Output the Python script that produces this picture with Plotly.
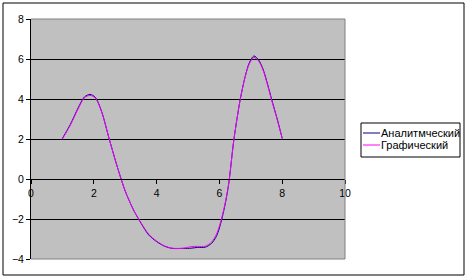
import plotly.graph_objects as go

x_vals = [1.0, 1.25, 1.5, 1.7, 1.88, 2.05, 2.25, 2.5, 2.75, 3.0, 3.25, 3.5, 3.75,
          4.0, 4.25, 4.5, 4.85, 5.1, 5.3, 5.55, 5.75, 5.9, 6.0, 6.12, 6.21, 6.3,
          6.46, 6.66, 6.82, 6.95, 7.1, 7.25, 7.4, 7.55, 7.67, 7.85, 8.0]
y_analytic = [2.03, 2.72, 3.55, 4.1, 4.23, 4.08, 3.37, 1.95, 0.6, -0.6, -1.5, -2.2, -2.8,
              -3.13, -3.36, -3.47, -3.47, -3.46, -3.42, -3.41, -3.22, -2.88, -2.45, -1.72, -1.05, -0.2,
              1.95, 3.95, 5.12, 5.8, 6.15, 5.95, 5.45, 4.65, 3.95, 2.95, 2.03]
y_graphic = [2.0, 2.68, 3.5, 4.06, 4.18, 4.04, 3.35, 1.95, 0.6, -0.6, -1.5, -2.18, -2.76,
             -3.1, -3.34, -3.46, -3.46, -3.38, -3.37, -3.36, -3.15, -2.78, -2.35, -1.65, -1.0, -0.2,
             1.95, 3.95, 5.1, 5.75, 6.08, 5.9, 5.4, 4.6, 3.9, 2.92, 2.03]

x_ticks = [0, 2, 4, 6, 8, 10]
y_ticks = [-4, -2, 0, 2, 4, 6, 8]
names = ["Аналитмческий", "Графический"]
colors = ["#000080", "#FF00FF"]

FONT = "Liberation Sans, Arial, sans-serif"

fig = go.Figure()
for yv, nm, col in zip([y_analytic, y_graphic], names, colors):
    fig.add_trace(go.Scatter(x=x_vals, y=yv, mode="lines", name=nm, showlegend=False,
                             line=dict(color=col, width=1, shape="spline", smoothing=0.8)))

fig.update_layout(
    width=468, height=278,
    margin=dict(l=31, r=123, t=19, b=19),
    paper_bgcolor="white", plot_bgcolor="#C0C0C0",
    font=dict(family=FONT, size=10, color="black"),
    xaxis=dict(range=[0, 10], tickvals=x_ticks, showgrid=False, zeroline=False,
               showline=True, linecolor="black", linewidth=1,
               ticks="outside", ticklen=4, tickcolor="black",
               anchor="free", position=1/3, tickfont=dict(size=10.5)),
    yaxis=dict(range=[-4, 8], tickvals=y_ticks, showgrid=True, gridcolor="black", gridwidth=1,
               zeroline=False, showline=True, linecolor="black", linewidth=1,
               ticks="outside", ticklen=4, tickcolor="black", tickfont=dict(size=10.5)),
    showlegend=False,
)

def px(xp):
    return (xp - 31) / 314

def py(yp):
    return (259 - yp) / 240

# plot-area border (gray) on top/right/bottom
for (x0, y0, x1, y1) in [(0, 1, 1, 1), (1, 0, 1, 1), (0, 0, 1, 0)]:
    fig.add_shape(type="line", xref="paper", yref="paper", x0=x0, x1=x1, y0=y0, y1=y1,
                  line=dict(color="#808080", width=1), layer="above")
# outer chart border
fig.add_shape(type="rect", xref="paper", yref="paper",
              x0=px(3), x1=px(464), y0=py(275), y1=py(3),
              line=dict(color="black", width=1), fillcolor="rgba(0,0,0,0)", layer="below")

# legend box
fig.add_shape(type="rect", xref="paper", yref="paper",
              x0=px(361), x1=px(460), y0=py(157), y1=py(123),
              line=dict(color="black", width=1), fillcolor="white", layer="above")
for i, (nm, col) in enumerate(zip(names, colors)):
    yc = 133 + 12 * i
    fig.add_shape(type="line", xref="paper", yref="paper",
                  x0=px(363), x1=px(380), y0=py(yc), y1=py(yc),
                  line=dict(color=col, width=1), layer="above")
    fig.add_annotation(xref="paper", yref="paper", x=px(379), y=py(yc),
                       xanchor="left", yanchor="middle", text=nm, showarrow=False,
                       font=dict(family=FONT, size=11, color="black"))

fig.write_html("out.html")
